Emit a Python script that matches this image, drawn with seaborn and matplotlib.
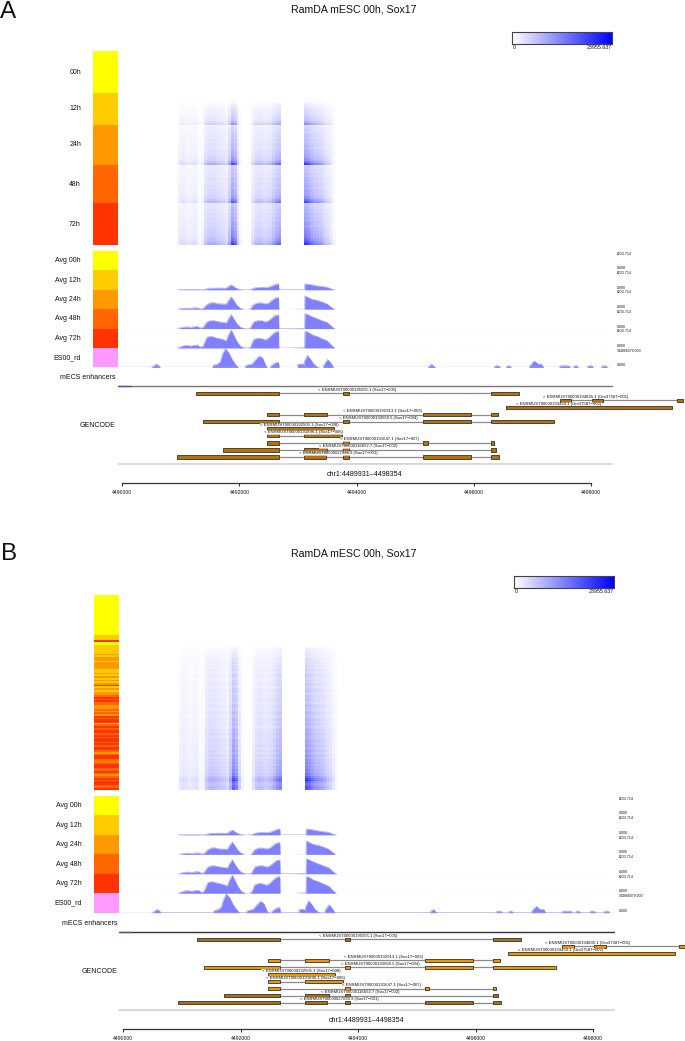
"""Two genome-browser panels: single-cell coverage heatmap, averaged tracks, GENCODE models."""

import matplotlib
matplotlib.use("Agg")
import matplotlib.pyplot as plt
from matplotlib.colors import LinearSegmentedColormap, ListedColormap
import numpy as np
import seaborn as sns

W, H = 685, 1041

TITLE = "RamDA mESC 00h, Sox17"
REGION = "chr1:4489931\u20134498354"
X_START, X_END = 4489931, 4498354
axis_ticks = [4490000, 4492000, 4494000, 4496000, 4498000]
axis_labels = ["4490000", "4492000", "4494000", "4496000", "4498000"]

time_colors = ["#FFFF00", "#FFCC00", "#FF9900", "#FF6600", "#FF3300", "#FF99FF"]
group_labels = ["00h", "12h", "24h", "48h", "72h"]
track_labels = ["Avg 00h", "Avg 12h", "Avg 24h", "Avg 48h", "Avg 72h", "ES00_rd"]
track_tops = ["6233.714"] * 5 + ["344866079.000"]
cbar_max = "23955.637"

# heatmap column profile, 50 bp bins from 4490900
bin_start, bin_size = 4490900, 50
col_profile = [0, .14, .18, .16, .12, .14, .16, .14, .05, .08, .30, .38, .40, .38, .34, .30,
               .28, .22, .45, .88, .72, .28, .06, .01, 0, .02, .18, .32, .36, .34, .30, .32,
               .36, .48, .62, .70, 0, 0, 0, 0, 0, 0, 0, 0, .95, .85, .70, .60, .55, .50,
               .42, .32, .26, .15, .05, 0]

# panel A: cells ordered by time point, with the level of each row
a_row_times = [0] * 21 + [1] * 16 + [2] * 20 + [3] * 19 + [4] * 21
a_row_levels = [0] * 21 + [
    0, 0, .02, .02, .04, .08, .12, .15, .18, .20, .22, .25, .28, .30, .40, .55,
    .18, .22, .25, .24, .28, .30, .28, .32, .30, .34, .36, .33, .38, .40, .42, .45, .50, .55, .70, .95,
    .25, .28, .30, .30, .34, .30, .36, .38, .35, .40, .42, .38, .44, .46, .45, .50, .55, .70, .85,
    .30, .32, .35, .38, .36, .42, .40, .44, .42, .48, .50, .46, .52, .55, .58, .60, .62, .68, .75, .85, 1.0]

# panel B: cells ordered by signal, time points mixed
b_row_codes = ("00000000000000000000000" "111" "4" "00" "11111" "2122122221" "12121212" "4" "12122"
               "3434332" "23232" "4344" "1343443" "4344343443" "2344323443" "3432343443" "34")
b_row_times = [int(c) for c in b_row_codes]
b_row_levels = [0] * 28 + [
    .01, .03, .05, .08, .10, .12, .14, .12, .16, .18,
    .16, .20, .18, .22, .20, .24, .18, .22, .26, .24,
    .20, .26, .24, .28, .26, .22, .28, .30, .26, .24,
    .30, .28, .32, .30, .26, .32, .34, .30, .28, .34,
    .36, .32, .30, .36, .38, .34, .40, .36, .32, .38,
    .42, .38, .44, .40, .36, .42, .46, .40, .44, .48,
    .42, .46, .50, .44, .48, .52, .46, .54, .50, .56,
    .52, .58, .54, .62, .58, .68, .64, .78, .92, 1.0,
    .80, .70, .78, .85, .80]

# averaged coverage tracks
avg_pos = [4490940, 4490963, 4491043, 4491100, 4491168, 4491214, 4491282, 4491328, 4491373,
           4491442, 4491499, 4491556, 4491613, 4491670, 4491726, 4491772, 4491812, 4491858,
           4491897, 4491954, 4492011, 4492068, 4492125, 4492182, 4492239, 4492308, 4492382,
           4492439, 4492496, 4492553, 4492610, 4492667, 4492672, 4492866, 4493111, 4493117,
           4493162, 4493236, 4493322, 4493407, 4493493, 4493550, 4493607, 4493635]
avg_12h = [0, 50, 110, 160, 110, 110, 160, 50, 110, 320, 540, 540, 590, 590, 540, 590, 1075, 1610,
           1075, 430, 110, 0, 0, 50, 540, 750, 860, 750, 860, 1290, 1720, 1935, 0, 0, 0, 1935,
           1830, 1610, 1290, 1075, 860, 430, 50, 0]
avg_24h = [0, 110, 320, 380, 320, 430, 480, 160, 270, 1500, 2040, 2150, 1830, 1720, 1720, 1610,
           2900, 3980, 2900, 1290, 320, 50, 0, 110, 1500, 2040, 2040, 1720, 2040, 2900, 3655,
           3760, 0, 0, 50, 4300, 3870, 3225, 2900, 2365, 1720, 860, 110, 0]
avg_48h = [0, 160, 480, 590, 430, 590, 700, 215, 380, 2150, 2580, 2580, 2365, 2150, 2040, 1830,
           3225, 4515, 3225, 1610, 480, 110, 0, 160, 2150, 2580, 2580, 2150, 2580, 3440, 4300,
           4400, 0, 0, 110, 4840, 4515, 3870, 3225, 2580, 2040, 1075, 160, 0]
avg_72h = [0, 215, 750, 860, 645, 860, 970, 320, 540, 3440, 3760, 3550, 3225, 3010, 2690, 2365,
           4300, 5800, 4300, 2150, 645, 110, 0, 215, 2690, 3225, 3010, 2580, 3225, 4300, 5160,
           5375, 0, 0, 110, 5375, 5160, 4300, 3760, 3010, 2365, 1290, 215, 0]
AVG_MAX = 6233.714

# bulk track, in millions
es_pos = [4490484, 4490530, 4490575, 4490615, 4490650, 4491527, 4491556, 4491613, 4491670, 4491709,
          4491755, 4491812, 4491869, 4491926, 4491983, 4492080, 4492125, 4492211, 4492268, 4492336,
          4492393, 4492450, 4492479, 4492513, 4492553, 4492610, 4492667, 4492678, 4492991, 4492997,
          4493083, 4493094, 4493111, 4493157, 4493208, 4493265, 4493322, 4493379, 4493419, 4493464,
          4493504, 4493550, 4493607, 4495208, 4495277, 4495345, 4496336, 4496371, 4496422, 4496457,
          4496542, 4496576, 4496610, 4496644, 4496935, 4497003, 4497037, 4497089, 4497157, 4497191,
          4497448, 4497482, 4497619, 4497653, 4497687, 4497722, 4497756, 4497790, 4497926, 4497961,
          4498012, 4498046, 4498166, 4498200, 4498251, 4498285]
es_val = [0, 24, 60, 36, 0, 0, 42, 54, 101, 238, 333, 268, 149, 60, 0, 0, 42, 60, 131, 202, 167, 30, 0,
          0, 42, 83, 89, 0, 0, 60, 60, 30, 119, 214, 149, 60, 12, 0, 0, 89, 143, 89, 0, 0, 59, 0,
          0, 30, 30, 0, 0, 30, 30, 0, 0, 89, 116, 62, 59, 0, 0, 30, 30, 0, 0, 30, 30, 0, 0, 30, 30, 0,
          0, 30, 30, 0]
ES_MAX = 344.866

enhancers = [(4489931, 4490150)]

tx_labels = ["< ENSMUST00000195555.1 (Sox17\u2212005)", "> ENSMUST00000194835.1 (Gm37587\u2212001)",
             "> ENSMUST00000193450.1 (Gm37587\u2212002)", "< ENSMUST00000192913.1 (Sox17\u2212003)",
             "< ENSMUST00000192650.5 (Sox17\u2212004)", "< ENSMUST00000192505.1 (Sox17\u2212008)",
             "< ENSMUST00000191896.1 (Sox17\u2212006)", "< ENSMUST00000191647.1 (Sox17\u2212007)",
             "< ENSMUST00000116652.7 (Sox17\u2212002)", "< ENSMUST00000027035.9 (Sox17\u2212001)"]
tx_label_pos = [4494003, 4497914, 4497453, 4494439, 4494371, 4493026, 4493099, 4494397, 4494029, 4493679]
tx_exons = [
    [(4491255, 4492674), (4493773, 4493870), (4496291, 4496764)],
    [(4497477, 4497665), (4498012, 4498212), (4499465, 4499573)],
    [(4496547, 4499391)],
    [(4492462, 4492674), (4493101, 4493499), (4495140, 4495956), (4496291, 4496410)],
    [(4491385, 4492674), (4493773, 4493870), (4495140, 4495956), (4496291, 4497368)],
    [(4492462, 4493614)],
    [(4492462, 4492674), (4493101, 4493750)],
    [(4492462, 4492674), (4493773, 4493870), (4495140, 4495214), (4496291, 4496349)],
    [(4491716, 4492674), (4493101, 4493499), (4493773, 4493870), (4496291, 4496376)],
    [(4490935, 4492674), (4493101, 4493477), (4493773, 4493870), (4495140, 4495956), (4496291, 4496427)],
]

sns.set_theme(style="white")
plt.rcParams["font.family"] = ["Liberation Sans", "DejaVu Sans"]

heat_cmap = LinearSegmentedColormap.from_list("heat", ["#FFFFFF", "#0000FF"])
strip_cmap = ListedColormap(time_colors)


def px_axes(fig, x0, y0, x1, y1):
    ax = fig.add_axes([x0 / W, 1 - y1 / H, (x1 - x0) / W, (y1 - y0) / H])
    ax.patch.set_alpha(0)
    return ax


def px_text(fig, x, y, s, size, ha="left", va="center", **kw):
    fig.text(x / W, 1 - y / H, s, fontsize=size, ha=ha, va=va, color="#111111", **kw)


def plain_heatmap(ax, values, cmap, vmin, vmax):
    sns.heatmap(np.asarray(values), ax=ax, cmap=cmap, vmin=vmin, vmax=vmax, cbar=False,
                xticklabels=False, yticklabels=False, rasterized=True)


def draw_track(ax, x, y, ymax):
    if max(y) > 0:
        sns.lineplot(x=x, y=y, ax=ax, color="#8080FF", lw=0.3, sort=False, estimator=None, legend=False)
        ax.fill_between(x, y, 0, color="#8080FF", lw=0)
    ax.set_xlim(X_START, X_END)
    ax.set_ylim(0, ymax)
    ax.set_xlabel("")
    ax.set_ylabel("")
    ax.set_xticks([])
    ax.set_yticks([])
    sns.despine(ax=ax, left=True, bottom=True)


def draw_panel(fig, letter, letter_xy, p):
    x0, x1 = p["x0"], p["x1"]
    sx = (x1 - x0) / (X_END - X_START)
    px_text(fig, letter_xy[0], letter_xy[1], letter, 17.5, va="baseline")
    px_text(fig, p["title_x"], p["title_y"], TITLE, 7.6, ha="center")

    # colour scale
    ax = px_axes(fig, *p["cbar"])
    plain_heatmap(ax, [np.linspace(0, 1, 256)], heat_cmap, 0, 1)
    for s in ax.spines.values():
        s.set_visible(True)
        s.set_color("#444444")
        s.set_linewidth(0.8)
    cx0, _, cx1, cy1 = p["cbar"]
    px_text(fig, cx0 + 2, cy1 + 3.2, "0", 3.8, ha="center")
    px_text(fig, cx1, cy1 + 3.2, cbar_max, 3.8, ha="right")

    # cell strip and coverage heatmap
    top, bottom = p["heat_top"], p["heat_bottom"]
    ax = px_axes(fig, p["strip_x"], top, x0, bottom)
    plain_heatmap(ax, np.array(p["row_times"]).reshape(-1, 1), strip_cmap, -0.5, 5.5)

    heat = np.outer(p["row_levels"], col_profile)
    gx0 = x0 + (bin_start - X_START) * sx
    gx1 = gx0 + len(col_profile) * bin_size * sx
    ax = px_axes(fig, gx0, top, gx1, bottom)
    plain_heatmap(ax, heat, heat_cmap, 0, p["heat_vmax"])

    for label, y in zip(group_labels, p["group_y"]):
        px_text(fig, p["label_x"], y, label, 5, ha="right")

    # averaged tracks
    t0, th = p["track_top"], p["track_h"]
    ax = px_axes(fig, p["strip_x"], t0, x0, t0 + 6 * th)
    plain_heatmap(ax, [[0], [1], [2], [3], [4], [5]], strip_cmap, -0.5, 5.5)
    avg_series = [[0] * len(avg_pos), avg_12h, avg_24h, avg_48h, avg_72h]
    for i, series in enumerate(avg_series):
        ax = px_axes(fig, x0, t0 + i * th, x1, t0 + (i + 1) * th)
        draw_track(ax, avg_pos, series, AVG_MAX)
        if i >= 3:
            ax.axhline(0, color="#ECECFB", lw=0.8, zorder=0)
    ax = px_axes(fig, x0, t0 + 5 * th, x1, t0 + 6 * th)
    draw_track(ax, es_pos, es_val, ES_MAX)
    ax.axhline(0, color="#BDBDC8", lw=1.0)

    for i, label in enumerate(track_labels):
        px_text(fig, p["label_x"], t0 + (i + 0.5) * th, label, 5, ha="right")
        px_text(fig, p["right_x"], t0 + i * th + 2.7, track_tops[i], 2.55)
        px_text(fig, p["right_x"], t0 + i * th + 17.4, "0.000", 2.55)

    # gene models
    gy = p["gene_top"]
    px_text(fig, p["name_x"], gy - 8.5, "mECS enhancers", 5, ha="right")
    px_text(fig, p["name_x"], gy + 39.5, "GENCODE", 5, ha="right")
    ax = px_axes(fig, x0, gy, x1, p["gene_bottom"])
    ax.set_xlim(X_START, X_END)
    ax.set_ylim(10, -1)
    ax.set_xticks([])
    ax.set_yticks([])
    sns.despine(ax=ax, left=True, bottom=True, top=True, right=True)
    ax.axhline(-1, color=p["enh_color"], lw=1.0, clip_on=False)
    ax.axhline(10, color="#D8D8D8", lw=1.4, clip_on=False)
    for a, b in enhancers:
        ax.plot([a, b], [-1, -1], color="#5555AA", lw=1.0, clip_on=False)
    for row, exons in enumerate(tx_exons):
        ax.hlines(row, exons[0][0], exons[-1][1], color="#8A8A8A", lw=0.9, clip_on=False, zorder=1)
    for row, exons in enumerate(tx_exons):
        color = p["dark_exon"] if row in p["dark_rows"] else p["exon"]
        ax.broken_barh([(a, b - a) for a, b in exons], (row - 0.24, 0.48), facecolor=color,
                       edgecolor="#333333", lw=0.6, clip_on=False, zorder=2)
    for row, label in enumerate(tx_labels):
        ax.text(tx_label_pos[row], row - 0.49, label, fontsize=3.1, ha="center", va="center", color="#111111",
                clip_on=False, zorder=3, bbox=dict(facecolor="white", edgecolor="none", alpha=0.7, pad=0.2))

    px_text(fig, p["region_x"], p["region_y"], REGION, 5.1, ha="center")

    # genome axis
    ay = p["axis_y"]
    ax = px_axes(fig, x0, ay - 1, x1, ay)
    ax.set_xlim(X_START, X_END)
    ax.set_yticks([])
    ax.set_xticks(axis_ticks)
    ax.set_xticklabels(axis_labels, fontsize=3.65, color="#111111")
    ax.tick_params(axis="x", direction="out", length=2.4, width=0.8, pad=2.4, color="#333333", bottom=True)
    for side in ["top", "left", "right"]:
        ax.spines[side].set_visible(False)
    ax.spines["bottom"].set_visible(True)
    ax.spines["bottom"].set_bounds(axis_ticks[0], axis_ticks[-1])
    ax.spines["bottom"].set_color("#333333")
    ax.spines["bottom"].set_linewidth(0.9)


panel_a = dict(x0=118.3, x1=611.7, strip_x=93.3, title_x=353.5, title_y=9.5, cbar=(512.3, 31.7, 611.7, 44),
               heat_top=51, heat_bottom=245, row_times=a_row_times, row_levels=a_row_levels, heat_vmax=1.15,
               group_y=[72, 108, 145, 184, 224], label_x=81, track_top=251, track_h=19.4, right_x=617,
               gene_top=386.3, gene_bottom=464, name_x=116, enh_color="#777777",
               exon="#B87008", dark_exon="#B87008", dark_rows=[],
               region_x=365, region_y=474, axis_y=483.3)
panel_b = dict(x0=119, x1=614, strip_x=94, title_x=353.5, title_y=553, cbar=(514, 576, 614, 588),
               heat_top=595, heat_bottom=790, row_times=b_row_times, row_levels=b_row_levels, heat_vmax=1.15,
               group_y=[], label_x=82, track_top=796, track_h=19.45, right_x=619,
               gene_top=932.3, gene_bottom=1009.7, name_x=117, enh_color="#333333",
               exon="#F09400", dark_exon="#AC6C10", dark_rows=[0, 8, 9],
               region_x=367, region_y=1020, axis_y=1029)


def main():
    fig = plt.figure(figsize=(W / 100, H / 100), dpi=100, facecolor="white")
    draw_panel(fig, "A", (0, 17.5), panel_a)
    draw_panel(fig, "B", (1, 560.5), panel_b)
    fig.savefig("out.png", dpi=100)
    plt.close(fig)


if __name__ == "__main__":
    main()
